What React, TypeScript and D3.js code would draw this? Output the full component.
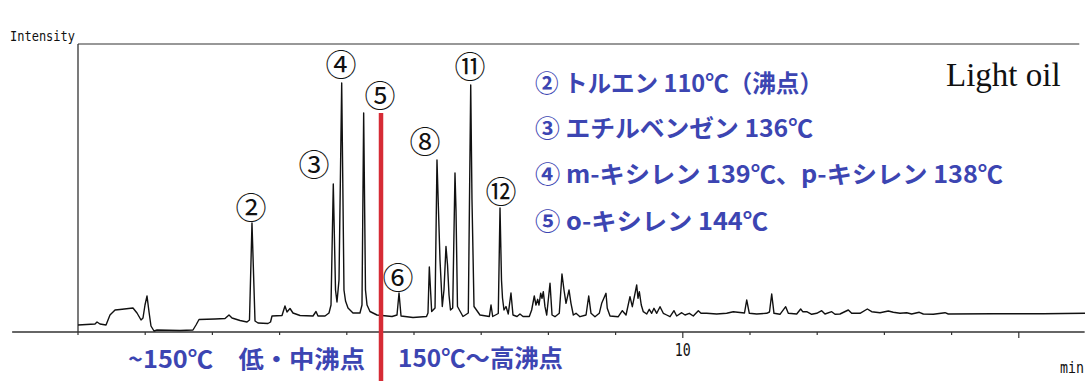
import React from 'react';
import * as d3 from 'd3';

// Chromatogram trace: retention time (min) and intensity (arbitrary units)
const traceTime = [
  1.000,1.253,1.283,1.327,1.417,1.476,1.551,1.625,1.818,1.878,
  1.938,1.967,1.997,2.027,2.057,2.086,2.131,2.176,2.518,2.711,
  2.756,2.801,3.039,3.188,3.247,3.292,3.411,3.515,3.552,3.589,
  3.634,3.679,3.827,3.865,3.887,4.036,4.080,4.110,4.155,4.199,
  4.304,4.497,4.542,4.571,4.676,4.735,4.765,4.799,4.832,4.854,
  4.884,4.924,4.958,4.981,5.018,5.092,5.196,5.226,5.251,5.278,
  5.301,5.345,5.449,5.673,5.747,5.777,5.807,5.985,6.186,6.208,
  6.228,6.263,6.313,6.342,6.365,6.387,6.421,6.446,6.476,6.499,
  6.521,6.543,6.576,6.610,6.625,6.647,6.729,6.808,6.844,6.863,
  6.893,6.982,7.121,7.146,7.171,7.254,7.280,7.302,7.317,7.339,
  7.369,7.403,7.443,7.473,7.533,7.577,7.622,7.716,7.751,7.790,
  7.815,7.841,7.860,7.885,7.905,7.924,7.949,7.975,8.024,8.054,
  8.098,8.162,8.202,8.232,8.262,8.307,8.336,8.371,8.411,8.470,
  8.560,8.600,8.634,8.693,8.757,8.793,8.857,8.876,8.917,9.040,
  9.100,9.155,9.214,9.249,9.289,9.314,9.333,9.353,9.382,9.412,
  9.463,9.501,9.537,9.571,9.612,9.661,9.710,9.760,9.810,9.869,
  9.909,9.984,10.033,10.097,10.156,10.231,10.271,10.355,10.504,10.653,
  10.751,10.918,10.951,10.990,11.100,11.248,11.290,11.323,11.357,11.446,
  11.531,11.570,11.695,11.754,11.784,11.844,11.918,11.993,12.067,12.116,
  12.216,12.265,12.339,12.463,12.513,12.637,12.746,12.811,12.935,13.058,
  13.132,13.232,13.332,13.406,13.519,13.579,13.728,13.902,13.951,14.621,15.365,15.985,
];
const traceIntensity = [
  7,8,10,8,7,17,22,22.5,24,19,
  12,14,27,36,20,6,1,2,1.5,2,
  7,12.5,13,13.5,17,14,11.5,10,12,109,
  11,9,8.5,10,16,16.5,26,20,23.5,19,
  16.5,16,20.5,16,16,19,27,148,42,30,
  52,249,42,31,24,19,19,27,219,42,
  27,20.5,17,15.5,17,39,16,14.5,15.5,19,
  65,20.5,24,172,120,72,25.5,42,85.5,67,
  37,22,24,159,122,25.5,15.5,19,247,132,
  25.5,17,15.5,27,15.5,18.5,124,52,34,22,
  25.5,18,39,17,15.5,18,15.5,15.5,22,36,
  27,32.7,27,38.7,33.7,40.3,25.3,17,48.7,17,
  15.3,18.7,58,42,28.7,42,28.7,17,18.7,15.3,
  17,36,18.7,15.3,18.7,28.7,38.7,23.7,16,15.3,
  21.3,17,35.3,25.3,38.7,47,33.7,40.3,27,20.3,
  18,22.7,18.7,23.7,18.7,25.3,18.7,17,15.3,21.3,
  16,19.3,17,18.7,16,21.3,18.7,18.7,18,18.7,
  20.3,19,32,18.7,18,18.7,20,38,18.7,17.7,
  25.3,18.7,18,23,20.3,20.3,17.7,18.7,21.3,18,
  20.3,17.7,18,22,18.7,18.7,23,20.3,19.3,21,
  19.7,18.7,19.3,18,19.7,18,17.7,19.3,18,18.3,18.3,18.7,
];

const minuteTicks = [1,2,3,4,5,6,7,8,9,10,11,12,13,14,15];
const labeledTicks = [10];
const majorTicks = [10, 15];

// Peak number annotations (anchored in time / intensity)
const peakLabels = ['②','③','④','⑤','⑥','⑧','⑪','⑫'];
const peakLabelTime = [3.574, 4.512, 4.914, 5.494, 5.762, 6.164, 6.833, 7.295];
const peakLabelLevel = [127, 170, 270, 239, 57, 193, 268, 143];

const compoundLines = [
  '② トルエン 110℃（沸点）',
  '③ エチルベンゼン 136℃',
  '④ m-キシレン 139℃、p-キシレン 138℃',
  '⑤ o-キシレン 144℃',
];
const sampleName = 'Light oil';
const yAxisTitle = 'Intensity';
const xAxisTitle = 'min';

// Boiling point split (o-xylene peak)
const splitTime = 5.509;
const splitLevel = 219;
const rangeLabels = ['~150℃　低・中沸点', '150℃～高沸点'];

const W = 1088;
const H = 381;
const BLUE = '#3c45b2';
const JP = "'Noto Sans CJK JP', 'Noto Sans', sans-serif";
const MONO = "'DejaVu Sans Mono', 'Liberation Mono', monospace";
const compoundY = [92, 137, 183, 230];
const compoundWidth = [288, 278, 468, 233];

export default function App() {
  const x = d3.scaleLinear().domain([0, 16]).range([10.8, 1086]);
  const y = d3.scaleLinear().domain([0, 288]).range([332, 44]);

  const pts: [number, number][] = traceTime.map((t, i) => [t, traceIntensity[i]]);
  const line = d3.line<[number, number]>().x(d => x(d[0])).y(d => y(d[1]));

  return (
    <svg width={W} height={H} viewBox={`0 0 ${W} ${H}`}
      style={{ position: 'absolute', left: 0, top: 0, display: 'block', background: '#fff' }}>
      <rect x={0} y={0} width={W} height={H} fill="#fff" />
      {/* frame */}
      <line x1={x(1)} x2={x(1)} y1={y(288)} y2={y(0)} stroke="#222" strokeWidth={1.2} />
      <line x1={x(1)} x2={x(15.9)} y1={y(288)} y2={y(288)} stroke="#333" strokeWidth={1.2} />
      {/* x axis */}
      <line x1={x(0.02)} x2={x(15.98)} y1={y(0)} y2={y(0)} stroke="#333" strokeWidth={1.3} />
      {minuteTicks.map(t => (
        <line key={t} x1={x(t)} x2={x(t)} y1={y(0)} y2={y(0) + (majorTicks.includes(t) ? 6 : 3)}
          stroke="#333" strokeWidth={1.2} />
      ))}
      {labeledTicks.map(t => (
        <text key={t} x={x(t)} y={356} textAnchor="middle" fontFamily={MONO}
          fontSize={17} fill="#111" textLength={16} lengthAdjust="spacingAndGlyphs">{t}</text>
      ))}
      <text x={1060} y={373} fontFamily={MONO} fontSize={16} fill="#111"
        textLength={24} lengthAdjust="spacingAndGlyphs">{xAxisTitle}</text>
      <text x={10} y={41} fontFamily={MONO} fontSize={14.5} fill="#111"
        textLength={65} lengthAdjust="spacingAndGlyphs">{yAxisTitle}</text>

      {/* trace */}
      <path d={line(pts) || ''} fill="none" stroke="#111" strokeWidth={1.4} strokeLinejoin="round" />

      {/* peak labels */}
      {peakLabels.map((s, i) => (
        <text key={s} x={x(peakLabelTime[i])} y={y(peakLabelLevel[i])} textAnchor="middle"
          dominantBaseline="central" fontFamily={JP} fontSize={31} fill="#111">{s}</text>
      ))}

      <text x={946} y={86} fontFamily="'Liberation Serif', 'Times New Roman', serif" fontSize={33} fill="#111">{sampleName}</text>

      {/* compound list */}
      {compoundLines.map((s, i) => (
        <text key={i} x={535} y={compoundY[i]} fontFamily={JP} fontWeight={700}
          fontSize={24} fill={BLUE} textLength={compoundWidth[i]} lengthAdjust="spacingAndGlyphs">{s}</text>
      ))}

      {/* split line */}
      <line x1={x(splitTime)} x2={x(splitTime)} y1={y(splitLevel)} y2={H} stroke="#d62b35" strokeWidth={4.5} />

      <text x={128} y={368} fontFamily={JP} fontWeight={700} fontSize={24} fill={BLUE}
        textLength={237} lengthAdjust="spacingAndGlyphs">{rangeLabels[0]}</text>
      <text x={398} y={367} fontFamily={JP} fontWeight={700} fontSize={24} fill={BLUE}
        textLength={165} lengthAdjust="spacingAndGlyphs">{rangeLabels[1]}</text>
    </svg>
  );
}
